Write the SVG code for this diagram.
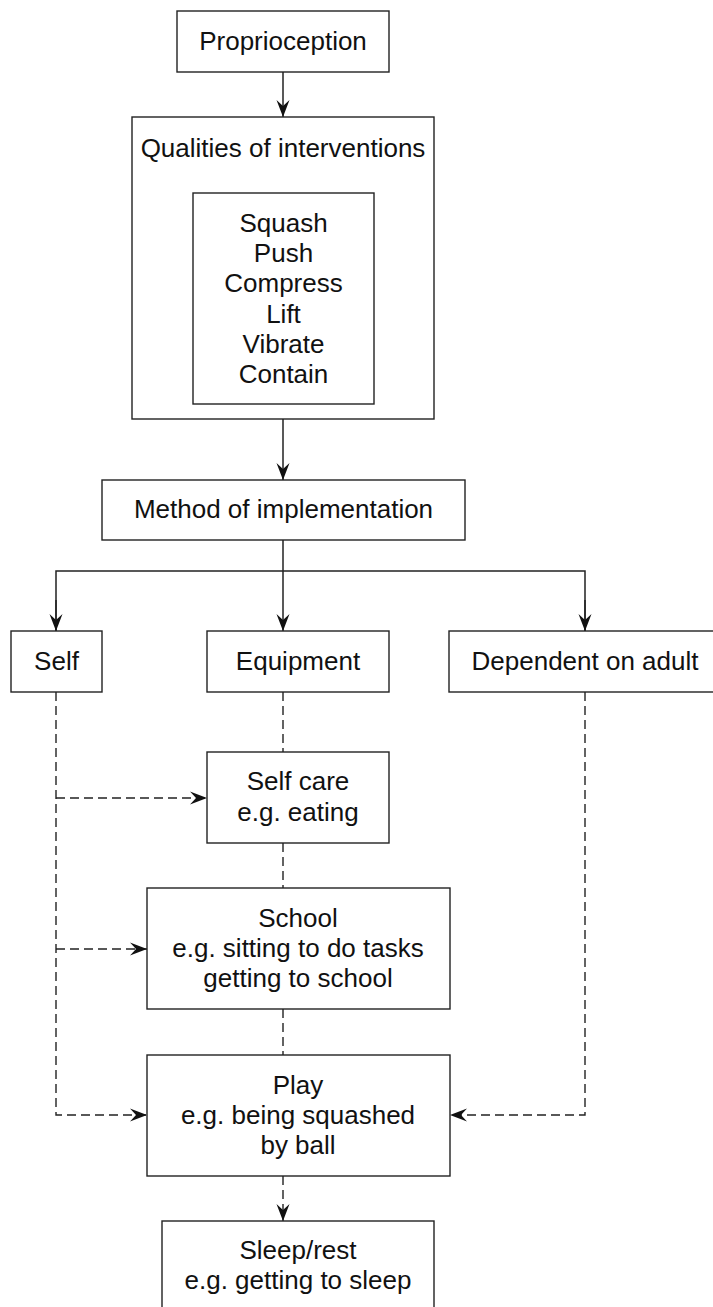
<svg xmlns="http://www.w3.org/2000/svg" width="713" height="1307" viewBox="0 0 713 1307">
<style>
.box{fill:#fff;stroke:#222;stroke-width:1.4}
.t{font-family:"Liberation Sans",Arial,sans-serif;font-size:26px;fill:#111;text-anchor:middle}
.ln{fill:none;stroke:#222;stroke-width:1.5}
.dash{fill:none;stroke:#222;stroke-width:1.4;stroke-dasharray:9 5}
</style>
<defs>
<marker id="ah" viewBox="-18 -8 19 16" markerWidth="19" markerHeight="16" refX="0" refY="0" orient="auto" markerUnits="userSpaceOnUse">
<path d="M0,0 L-17,-6.5 L-11,0 L-17,6.5 Z" fill="#111" stroke="none"/>
</marker>
</defs>
<rect width="713" height="1307" fill="#fff"/>
<g id="connectors">
<line class="ln" x1="283" y1="72" x2="283" y2="117" marker-end="url(#ah)"/>
<line class="ln" x1="283" y1="419" x2="283" y2="480" marker-end="url(#ah)"/>
<line class="ln" x1="283" y1="540" x2="283" y2="631" marker-end="url(#ah)"/>
<polyline class="ln" points="56,631 56,571 585,571 585,631"/>
<line class="ln" x1="56" y1="600" x2="56" y2="631" marker-end="url(#ah)"/>
<line class="ln" x1="585" y1="600" x2="585" y2="631" marker-end="url(#ah)"/>
<polyline class="dash" points="56,692 56,1115 147,1115" marker-end="url(#ah)"/>
<line class="dash" x1="56" y1="798" x2="207" y2="798" marker-end="url(#ah)"/>
<line class="dash" x1="56" y1="949" x2="147" y2="949" marker-end="url(#ah)"/>
<polyline class="dash" points="585,692 585,1115 450,1115" marker-end="url(#ah)"/>
<line class="dash" x1="283" y1="692" x2="283" y2="752"/>
<line class="dash" x1="283" y1="843" x2="283" y2="888"/>
<line class="dash" x1="283" y1="1009" x2="283" y2="1055"/>
<line class="dash" x1="283" y1="1176" x2="283" y2="1221" marker-end="url(#ah)"/>
</g>
<g id="proprioception">
<rect class="box" x="177" y="11" width="212" height="61"/>
<text class="t" x="283" y="50">Proprioception</text>
</g>
<g id="qualities">
<rect class="box" x="132" y="117" width="302" height="302"/>
<text class="t" x="283" y="157">Qualities of interventions</text>
</g>
<g id="qualities-list">
<rect class="box" x="193" y="193" width="181" height="211"/>
<text class="t" x="283.5" y="232">Squash</text>
<text class="t" x="283.5" y="262">Push</text>
<text class="t" x="283.5" y="292">Compress</text>
<text class="t" x="283.5" y="323">Lift</text>
<text class="t" x="283.5" y="353">Vibrate</text>
<text class="t" x="283.5" y="383">Contain</text>
</g>
<g id="method">
<rect class="box" x="102" y="480" width="363" height="60"/>
<text class="t" x="283.5" y="518">Method of implementation</text>
</g>
<g id="self">
<rect class="box" x="11" y="631" width="91" height="61"/>
<text class="t" x="56.5" y="670">Self</text>
</g>
<g id="equipment">
<rect class="box" x="207" y="631" width="182" height="61"/>
<text class="t" x="298" y="670">Equipment</text>
</g>
<g id="dependent">
<rect class="box" x="449" y="631" width="272" height="61"/>
<text class="t" x="585" y="670">Dependent on adult</text>
</g>
<g id="selfcare">
<rect class="box" x="207" y="752" width="182" height="91"/>
<text class="t" x="298" y="790">Self care</text>
<text class="t" x="298" y="821">e.g. eating</text>
</g>
<g id="school">
<rect class="box" x="147" y="888" width="303" height="121"/>
<text class="t" x="298" y="927">School</text>
<text class="t" x="298" y="957">e.g. sitting to do tasks</text>
<text class="t" x="298" y="987">getting to school</text>
</g>
<g id="play">
<rect class="box" x="147" y="1055" width="303" height="121"/>
<text class="t" x="298" y="1094">Play</text>
<text class="t" x="298" y="1124">e.g. being squashed</text>
<text class="t" x="298" y="1154">by ball</text>
</g>
<g id="sleep">
<rect class="box" x="162" y="1221" width="272" height="94"/>
<text class="t" x="298" y="1259">Sleep/rest</text>
<text class="t" x="298" y="1289">e.g. getting to sleep</text>
</g>
</svg>
